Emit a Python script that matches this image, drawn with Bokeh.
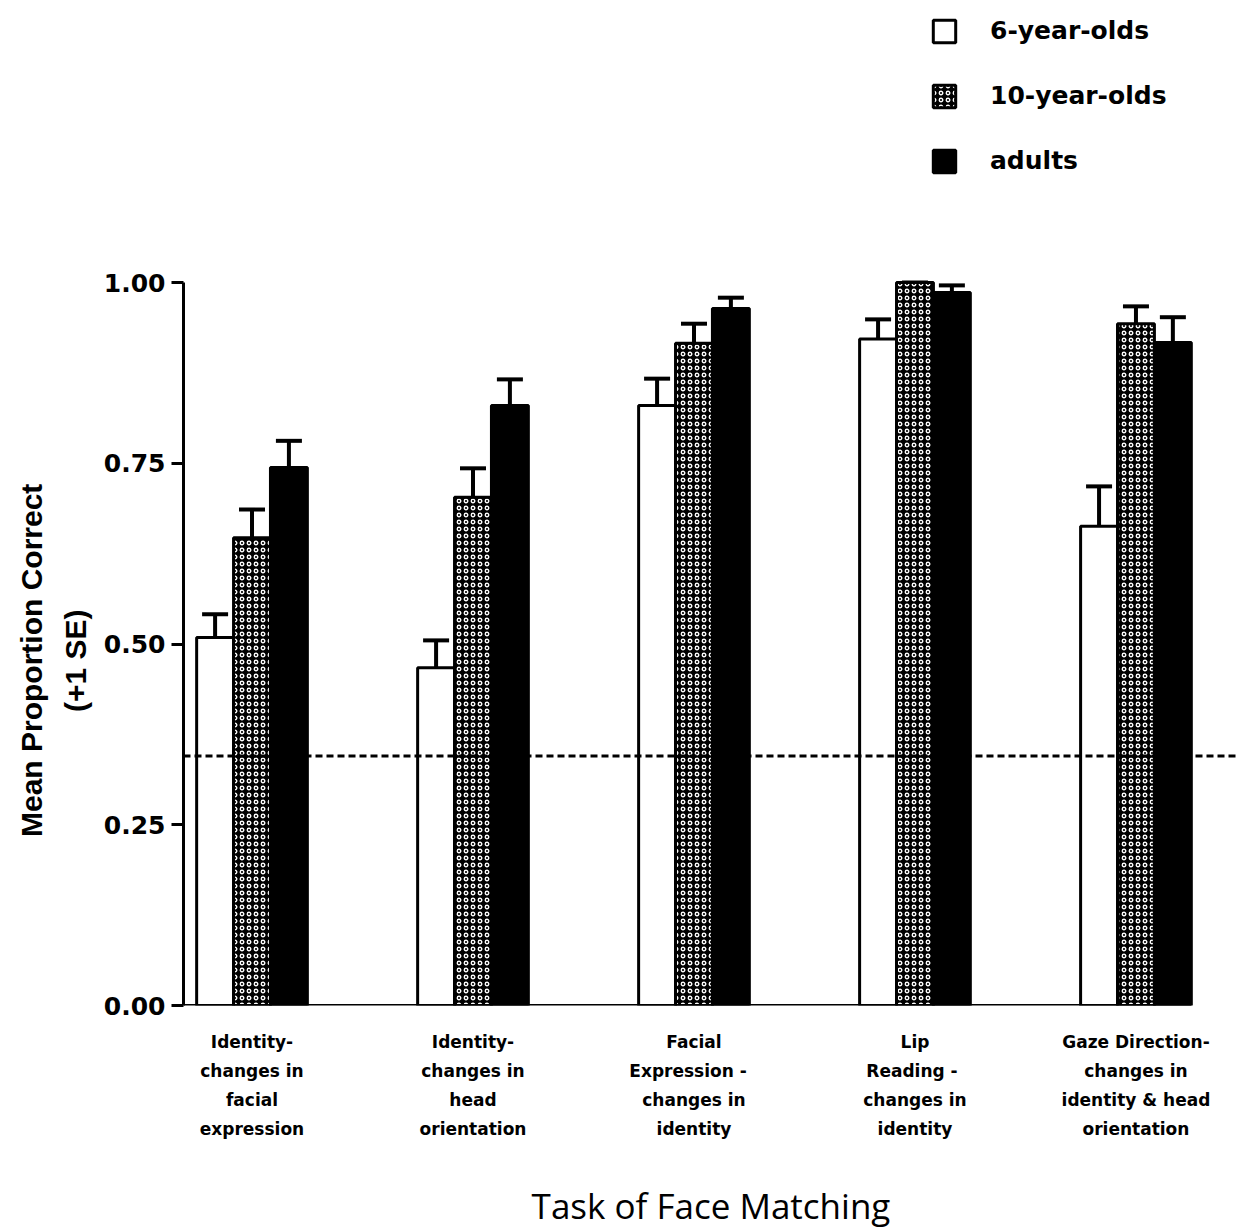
from bokeh.plotting import figure
from bokeh.models import (Range1d, FixedTicker, Whisker, TeeHead, ColumnDataSource,
                          Legend, LegendItem, Span, NumeralTickFormatter, Title)
from bokeh.embed import file_html
from bokeh.resources import INLINE

# ---- data ----
tasks = [
    "Identity-\nchanges in\nfacial\nexpression",
    "Identity-\nchanges in\nhead\norientation",
    "Facial\nExpression   -\nchanges in\nidentity",
    "Lip\nReading  -\nchanges in\nidentity",
    "Gaze Direction-\nchanges in\nidentity & head\norientation",
]
groups = ["6-year-olds", "10-year-olds", "adults"]
six_year = [0.509, 0.467, 0.830, 0.922, 0.663]
six_year_se = [0.032, 0.038, 0.037, 0.027, 0.055]
ten_year = [0.647, 0.703, 0.916, 1.000, 0.943]
ten_year_se = [0.039, 0.040, 0.027, 0.000, 0.024]
adults = [0.744, 0.830, 0.964, 0.986, 0.917]
adults_se = [0.037, 0.036, 0.015, 0.010, 0.035]
chance = 0.345
y_ticks = [0.0, 0.25, 0.5, 0.75, 1.0]
y_title_lines = ["Mean Proportion Correct", "(+1 SE)"]

series = [six_year, ten_year, adults]
ses = [six_year_se, ten_year_se, adults_se]

bar_w = 0.167
offsets = [-bar_w, 0.0, bar_w]
x_start, x_end = -0.31, 4.464
top_pad = 10
frame_h = 1005 - top_pad
y_end = frame_h / 723.0

p = figure(frame_width=1055, frame_height=frame_h,
           x_range=Range1d(x_start, x_end), y_range=Range1d(0, y_end),
           output_backend="svg", toolbar_location=None,
           min_border=0, min_border_left=183, min_border_top=top_pad,
           min_border_right=0, min_border_bottom=220)
p.outline_line_color = None
p.grid.visible = False
p.background_fill_color = "white"

styles = [
    dict(fill_color="white", line_color="black"),
    dict(fill_color="black", line_color="black", hatch_pattern="ring",
         hatch_color="white", hatch_scale=7, hatch_weight=1.3),
    dict(fill_color="black", line_color="black"),
]

renderers = []
for vals, se, off, st in zip(series, ses, offsets, styles):
    xs = [i + off for i in range(len(vals))]
    src = ColumnDataSource(dict(x=xs, top=vals,
                                upper=[v + s for v, s in zip(vals, se)]))
    r = p.vbar(x="x", top="top", bottom=0, width=bar_w, source=src,
               line_width=3, **st)
    renderers.append(r)
    wh = Whisker(source=src, base="x", lower="top", upper="upper",
                 dimension="height", line_width=4, line_color="black",
                 upper_head=TeeHead(size=26, line_width=4, line_color="black"),
                 lower_head=None)
    p.add_layout(wh)

# chance line
p.add_layout(Span(location=chance, dimension="width", line_dash="7 4",
                  line_width=3, line_color="black"))

# x baseline
last_edge = len(tasks) - 1 + offsets[-1] + bar_w / 2
p.segment(x0=[x_start], y0=[0], x1=[last_edge], y1=[0], line_width=3,
          line_color="black")

# y axis
yax = p.yaxis[0]
yax.bounds = (0, 1)
yax.ticker = FixedTicker(ticks=y_ticks)
yax.formatter = NumeralTickFormatter(format="0.00")
yax.axis_line_width = 3
yax.major_tick_line_width = 3
yax.major_tick_out = 12
yax.major_tick_in = 0
yax.minor_tick_line_color = None
yax.major_label_text_font = "DejaVu Sans"
yax.major_label_text_font_style = "bold"
yax.major_label_text_font_size = "25px"
yax.major_label_text_color = "black"
yax.major_label_standoff = 6

# y axis title: two lines, centred on the 0..1 part of the axis
title_font_px = 30
title_widths = [353, 103]       # approx rendered widths of the two lines (px)
centre_from_bottom = 345        # px above frame bottom
for text, w, so in zip(reversed(y_title_lines), reversed(title_widths), [18, 0]):
    t = Title(text=text, align="left", offset=centre_from_bottom - w / 2,
              text_font="Liberation Sans", text_font_style="bold",
              text_font_size=f"{title_font_px}px", text_color="black",
              text_line_height=0.95, standoff=so)
    p.add_layout(t, "left")

# x axis
xax = p.xaxis[0]
xax.ticker = FixedTicker(ticks=list(range(len(tasks))))
xax.major_label_overrides = {i: t for i, t in enumerate(tasks)}
xax.axis_line_color = None
xax.major_tick_line_color = None
xax.minor_tick_line_color = None
xax.major_label_text_font = "DejaVu Sans"
xax.major_label_text_font_style = "bold"
xax.major_label_text_font_size = "17px"
xax.major_label_text_line_height = 1.45
xax.major_label_text_color = "black"
xax.major_label_standoff = 20
xax.axis_label = "Task of Face Matching"
xax.axis_label_text_font = "Open Sans"
xax.axis_label_text_font_style = "normal"
xax.axis_label_text_font_size = "35px"
xax.axis_label_text_line_height = 1.0
xax.axis_label_standoff = 40
xax.axis_label_text_color = "black"

legend = Legend(items=[LegendItem(label=g, renderers=[r]) for g, r in zip(groups, renderers)],
                location=(747, 830))
legend.border_line_color = None
legend.background_fill_alpha = 0
legend.padding = 0
legend.margin = 0
legend.spacing = 36
legend.glyph_width = 28
legend.glyph_height = 28
legend.label_standoff = 32
legend.label_text_font = "DejaVu Sans"
legend.label_text_font_style = "bold"
legend.label_text_font_size = "25px"
legend.label_text_color = "black"
p.add_layout(legend)

open("out.html", "w").write(file_html(p, INLINE))
